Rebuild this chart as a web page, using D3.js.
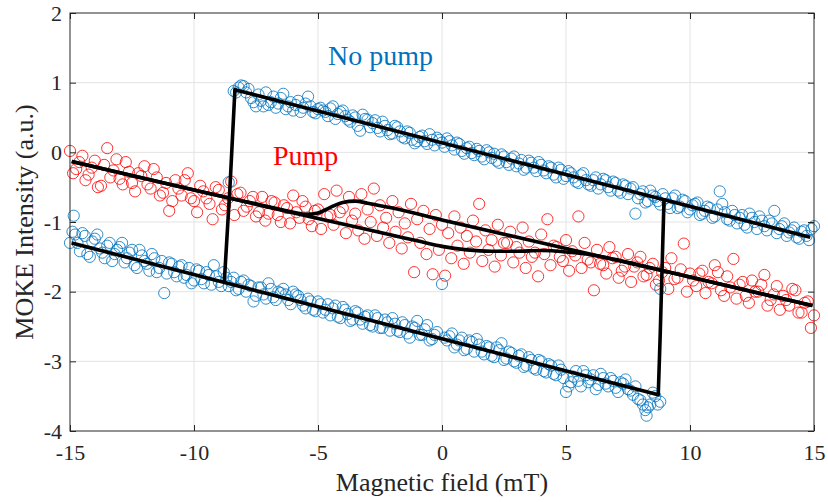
<!DOCTYPE html>
<html>
<head>
<meta charset="utf-8">
<script src="https://cdn.jsdelivr.net/npm/d3@7"></script>
<style>
  body { margin: 0; background: #fff; }
  svg { display: block; }
</style>
</head>
<body>
<svg width="828" height="502"></svg>
<script>
// no pump, upper branch
const noPumpUp = [
  [-8.4,0.88],[-8.2,0.93],[-8.0,0.95],[-7.8,0.91],[-7.6,0.72],[-7.4,0.83],[-7.2,0.66],[-7.0,0.68],
  [-6.8,0.80],[-6.6,0.70],[-6.4,0.84],[-6.2,0.66],[-6.0,0.60],[-5.8,0.74],[-5.6,0.64],[-5.4,0.80],
  [-5.2,0.58],[-5.0,0.62],[-4.8,0.60],[-4.6,0.52],[-4.4,0.66],[-4.2,0.55],[-4.0,0.60],[-3.8,0.47],
  [-3.6,0.53],[-3.4,0.38],[-3.2,0.54],[-3.0,0.47],[-2.8,0.42],[-2.6,0.35],[-2.4,0.44],[-2.2,0.32],
  [-2.0,0.27],[-1.8,0.36],[-1.6,0.22],[-1.4,0.30],[-1.2,0.18],[-1.0,0.16],[-0.8,0.24],[-0.6,0.12],
  [-0.4,0.18],[-0.2,0.21],[0.0,0.14],[0.2,0.20],[0.4,0.10],[0.6,0.14],[0.8,0.02],[1.0,0.06],
  [1.2,-0.01],[1.4,0.05],[1.6,-0.06],[1.8,0.03],[2.0,-0.08],[2.2,-0.12],[2.4,-0.03],[2.6,-0.14],
  [2.8,-0.09],[3.0,-0.20],[3.2,-0.11],[3.4,-0.22],[3.6,-0.15],[3.8,-0.27],[4.0,-0.18],[4.2,-0.30],
  [4.4,-0.22],[4.6,-0.36],[4.8,-0.25],[5.0,-0.34],[5.2,-0.30],[5.4,-0.42],[5.6,-0.33],[5.8,-0.40],
  [6.0,-0.48],[6.2,-0.36],[6.4,-0.46],[6.6,-0.40],[6.8,-0.55],[7.0,-0.44],[7.2,-0.58],[7.4,-0.48],
  [7.6,-0.52],[7.8,-0.88],[8.0,-0.60],[8.2,-0.72],[8.4,-0.55],[8.6,-0.64],[8.8,-0.75],[9.0,-0.66],
  [9.2,-0.80],[9.4,-0.62],[9.6,-0.78],[9.8,-0.70],[10.0,-0.82],[10.2,-0.74],[10.4,-0.90],[10.6,-0.84],
  [10.8,-0.80],[11.0,-0.92],[11.2,-0.56],[11.4,-0.86],[11.6,-0.98],[11.8,-0.90],[12.0,-0.94],[12.2,-1.04],
  [12.4,-0.88],[12.6,-1.00],[12.8,-0.92],[13.0,-1.06],[13.2,-0.98],[13.4,-0.84],[13.6,-1.10],[13.8,-1.02],
  [14.0,-1.15],[14.2,-1.08],[14.4,-1.24],[14.6,-1.12],[14.8,-1.26],[15.0,-1.06]
];
// second pass over the upper branch
const noPumpUp2 = [
  [-8.3,0.86],[-8.1,0.96],[-7.9,0.86],[-7.7,0.78],[-7.5,0.66],[-7.3,0.74],[-7.1,0.86],[-6.9,0.72],
  [-6.7,0.64],[-6.5,0.78],[-6.3,0.62],[-6.1,0.72],[-5.9,0.68],[-5.7,0.58],[-5.5,0.70],[-5.3,0.66],
  [-5.1,0.56],[-4.9,0.64],[-4.7,0.58],[-4.5,0.63],[-4.3,0.48],[-4.1,0.58],[-3.9,0.52],[-3.7,0.44],
  [-3.5,0.50],[-3.3,0.31],[-3.1,0.48],[-2.9,0.36],[-2.7,0.46],[-2.5,0.30],[-2.3,0.38],[-2.1,0.26],
  [-1.9,0.38],[-1.7,0.30],[-1.5,0.20],[-1.3,0.28],[-1.1,0.13],[-0.9,0.22],[-0.7,0.16],[-0.5,0.26],
  [-0.3,0.10],[-0.1,0.18],[0.1,0.08],[0.3,0.16],[0.5,0.04],[0.7,0.12],[0.9,-0.02],[1.1,0.08],
  [1.3,-0.04],[1.5,0.02],[1.7,-0.10],[1.9,0.00],[2.1,-0.02],[2.3,-0.15],[2.5,-0.06],[2.7,-0.18],
  [2.9,-0.06],[3.1,-0.16],[3.3,-0.25],[3.5,-0.12],[3.7,-0.22],[3.9,-0.14],[4.1,-0.26],[4.3,-0.20],
  [4.5,-0.32],[4.7,-0.22],[4.9,-0.38],[5.1,-0.27],[5.3,-0.36],[5.5,-0.44],[5.7,-0.30],[5.9,-0.46],
  [6.1,-0.40],[6.3,-0.52],[6.5,-0.38],[6.7,-0.50],[6.9,-0.42],[7.1,-0.55],[7.3,-0.46],[7.5,-0.60],
  [7.7,-0.50],[7.9,-0.66],[8.1,-0.56],[8.3,-0.70],[8.5,-0.62],[8.7,-0.70],[8.9,-0.60],[9.1,-0.74],
  [9.3,-0.66],[9.5,-0.80],[9.7,-0.68],[9.9,-0.86],[10.1,-0.76],[10.3,-0.72],[10.5,-0.88],[10.7,-0.78],
  [10.9,-0.94],[11.1,-0.82],[11.3,-0.74],[11.5,-0.96],[11.7,-0.84],[11.9,-1.02],[12.1,-0.90],[12.3,-1.08],
  [12.5,-0.94],[12.7,-1.10],[12.9,-0.98],[13.1,-1.12],[13.3,-1.02],[13.5,-1.16],[13.7,-1.06],[13.9,-1.20],
  [14.1,-1.12],[14.3,-1.22],[14.5,-1.14],[14.7,-1.20],[14.9,-1.10]
];

// no pump, lower branch
const noPumpDown = [
  [-15.0,-1.30],[-14.85,-0.91],[-14.8,-1.18],[-14.6,-1.42],[-14.4,-1.20],[-14.2,-1.50],[-14.0,-1.24],
  [-13.8,-1.38],[-13.6,-1.52],[-13.4,-1.30],[-13.2,-1.46],[-13.0,-1.36],[-12.8,-1.58],[-12.6,-1.44],
  [-12.4,-1.62],[-12.2,-1.40],[-12.0,-1.56],[-11.8,-1.70],[-11.6,-1.52],[-11.4,-1.66],[-11.2,-2.02],
  [-11.0,-1.58],[-10.8,-1.72],[-10.6,-1.64],[-10.4,-1.80],[-10.2,-1.66],[-10.0,-1.84],[-9.8,-1.70],
  [-9.6,-1.88],[-9.4,-1.76],[-9.2,-1.62],[-9.0,-1.86],[-8.8,-1.72],[-8.6,-1.92],[-8.4,-1.80],
  [-8.2,-1.96],[-8.0,-1.84],[-7.8,-1.90],[-7.6,-2.14],[-7.4,-1.94],[-7.2,-2.04],[-7.0,-1.88],
  [-6.8,-2.08],[-6.6,-2.00],[-6.4,-1.96],[-6.2,-2.12],[-6.0,-2.00],[-5.8,-2.06],[-5.6,-2.20],
  [-5.4,-2.10],[-5.2,-2.26],[-5.0,-2.14],[-4.8,-2.30],[-4.6,-2.18],[-4.4,-2.24],[-4.2,-2.36],
  [-4.0,-2.22],[-3.8,-2.32],[-3.6,-2.40],[-3.4,-2.30],[-3.2,-2.46],[-3.0,-2.34],[-2.8,-2.50],
  [-2.6,-2.38],[-2.4,-2.52],[-2.2,-2.44],[-2.0,-2.38],[-1.8,-2.56],[-1.6,-2.44],[-1.4,-2.60],
  [-1.2,-2.50],[-1.0,-2.42],[-0.8,-2.62],[-0.6,-2.48],[-0.4,-2.68],[-0.2,-2.58],[0.0,-1.89],
  [0.1,-2.66],[0.2,-2.70],[0.4,-2.60],[0.6,-2.76],[0.8,-2.66],[1.0,-2.82],[1.2,-2.72],[1.4,-2.68],
  [1.6,-2.86],[1.8,-2.78],[2.0,-2.92],[2.2,-2.80],[2.4,-2.74],[2.6,-2.96],[2.8,-2.88],[3.0,-3.02],
  [3.2,-2.90],[3.4,-3.06],[3.6,-2.98],[3.8,-3.12],[4.0,-3.00],[4.2,-3.16],[4.4,-3.06],[4.6,-3.20],
  [4.8,-3.12],[5.0,-3.44],[5.2,-3.30],[5.4,-3.14],[5.6,-3.36],[5.8,-3.20],[6.0,-3.26],[6.2,-3.40],
  [6.4,-3.18],[6.6,-3.32],[6.8,-3.24],[7.0,-3.38],[7.2,-3.30],[7.4,-3.26],[7.6,-3.42],[7.8,-3.36],
  [8.0,-3.56],[8.2,-3.70],[8.25,-3.78],[8.4,-3.62],[8.5,-3.45],[8.6,-3.50],[8.8,-3.58]
];
// second pass over the lower branch
const noPumpDown2 = [
  [-14.9,-1.14],[-14.7,-1.30],[-14.5,-1.16],[-14.3,-1.46],[-14.1,-1.28],[-13.9,-1.18],[-13.7,-1.44],
  [-13.5,-1.34],[-13.3,-1.56],[-13.1,-1.40],[-12.9,-1.30],[-12.7,-1.52],[-12.5,-1.40],[-12.3,-1.66],
  [-12.1,-1.48],[-11.9,-1.60],[-11.7,-1.46],[-11.5,-1.72],[-11.3,-1.56],[-11.1,-1.74],[-10.9,-1.60],
  [-10.7,-1.78],[-10.5,-1.62],[-10.3,-1.76],[-10.1,-1.88],[-9.9,-1.68],[-9.7,-1.82],[-9.5,-1.72],
  [-9.3,-1.90],[-9.1,-1.78],[-8.9,-1.92],[-8.7,-1.80],[-8.5,-1.86],[-8.3,-1.98],[-8.1,-1.86],
  [-7.9,-2.00],[-7.7,-1.92],[-7.5,-2.06],[-7.3,-1.94],[-7.1,-2.10],[-6.9,-1.96],[-6.7,-2.12],
  [-6.5,-2.02],[-6.3,-2.04],[-6.1,-2.18],[-5.9,-2.04],[-5.7,-2.12],[-5.5,-2.24],[-5.3,-2.14],
  [-5.1,-2.28],[-4.9,-2.18],[-4.7,-2.26],[-4.5,-2.34],[-4.3,-2.20],[-4.1,-2.38],[-3.9,-2.26],
  [-3.7,-2.42],[-3.5,-2.28],[-3.3,-2.40],[-3.1,-2.36],[-2.9,-2.48],[-2.7,-2.34],[-2.5,-2.52],
  [-2.3,-2.40],[-2.1,-2.56],[-1.9,-2.46],[-1.7,-2.58],[-1.5,-2.48],[-1.3,-2.66],[-1.1,-2.52],
  [-0.9,-2.62],[-0.7,-2.54],[-0.5,-2.70],[-0.3,-2.62],[0.3,-2.64],[0.5,-2.80],[0.7,-2.70],
  [0.9,-2.84],[1.1,-2.70],[1.3,-2.86],[1.5,-2.76],[1.7,-2.90],[1.9,-2.80],[2.1,-2.94],[2.3,-2.84],
  [2.5,-2.98],[2.7,-2.86],[2.9,-3.00],[3.1,-2.92],[3.3,-3.08],[3.5,-2.94],[3.7,-3.10],[3.9,-2.98],
  [4.1,-3.14],[4.3,-3.04],[4.5,-3.18],[4.7,-3.06],[4.9,-3.24],[5.1,-3.36],[5.3,-3.22],[5.5,-3.28],
  [5.7,-3.14],[5.9,-3.30],[6.1,-3.20],[6.3,-3.34],[6.5,-3.24],[6.7,-3.36],[6.9,-3.28],[7.1,-3.44],
  [7.3,-3.32],[7.5,-3.40],[7.7,-3.48],[7.9,-3.54],[8.1,-3.62],[8.3,-3.66],[8.7,-3.62]
];

// points caught in the switching
const noPumpSwitch = [[-8.6,-0.43],[8.8,-1.96]];

// pump, two sweeps
const pumpA = [
  [-15.0,0.02],[-14.75,-0.24],[-14.5,-0.05],[-14.25,-0.32],[-14.0,-0.12],[-13.75,-0.48],[-13.5,0.06],
  [-13.25,-0.26],[-13.0,-0.38],[-12.75,-0.14],[-12.5,-0.44],[-12.25,-0.30],[-12.0,-0.20],[-11.75,-0.52],
  [-11.5,-0.36],[-11.25,-0.58],[-11.0,-0.84],[-10.75,-0.40],[-10.5,-0.62],[-10.25,-0.30],[-10.0,-0.70],
  [-9.75,-0.48],[-9.5,-0.66],[-9.25,-0.96],[-9.0,-0.54],[-8.75,-0.76],[-8.5,-0.42],[-8.25,-0.60],
  [-8.0,-0.84],[-7.75,-0.70],[-7.5,-0.92],[-7.25,-0.64],[-7.0,-0.88],[-6.75,-0.72],[-6.5,-1.00],
  [-6.25,-0.80],[-6.0,-0.62],[-5.75,-0.94],[-5.5,-0.78],[-5.25,-1.06],[-5.0,-0.82],[-4.75,-0.60],
  [-4.5,-0.90],[-4.25,-0.55],[-4.0,-0.80],[-3.75,-0.64],[-3.5,-0.88],[-3.25,-0.60],[-3.0,-0.82],
  [-2.75,-0.52],[-2.5,-0.76],[-2.25,-0.94],[-2.0,-0.70],[-1.75,-0.86],[-1.5,-1.02],[-1.25,-0.74],
  [-1.0,-0.96],[-0.75,-0.84],[-0.5,-1.10],[-0.25,-0.90],[0.0,-1.04],[0.25,-1.16],[0.5,-0.92],
  [0.75,-1.08],[1.0,-1.20],[1.25,-0.98],[1.5,-0.74],[1.75,-1.12],[2.0,-1.26],[2.25,-1.04],[2.5,-1.30],
  [2.75,-1.14],[3.0,-1.36],[3.25,-1.08],[3.5,-1.28],[3.75,-1.44],[4.0,-1.18],[4.25,-0.96],[4.5,-1.34],
  [4.75,-1.50],[5.0,-1.26],[5.25,-1.42],[5.5,-0.92],[5.75,-1.30],[6.0,-1.58],[6.25,-1.40],[6.5,-1.62],
  [6.75,-1.36],[7.0,-1.50],[7.25,-1.70],[7.5,-1.46],[7.75,-1.64],[8.0,-1.50],[8.25,-1.76],[8.5,-1.60],
  [8.75,-1.84],[9.0,-1.66],[9.25,-1.52],[9.5,-1.80],[9.75,-1.31],[10.0,-1.74],[10.25,-1.92],[10.5,-1.70],
  [10.75,-1.86],[11.0,-1.62],[11.25,-1.98],[11.5,-1.78],[11.75,-1.53],[12.0,-1.90],[12.25,-2.06],
  [12.5,-1.84],[12.75,-2.00],[13.0,-1.76],[13.25,-2.12],[13.5,-1.92],[13.75,-2.06],[14.0,-2.20],
  [14.25,-1.98],[14.5,-2.30],[14.75,-2.14],[15.0,-2.34]
];
const pumpB = [
  [-14.875,-0.30],[-14.625,-0.14],[-14.375,-0.40],[-14.125,-0.22],[-13.875,-0.50],[-13.625,-0.18],
  [-13.375,-0.36],[-13.125,-0.10],[-12.875,-0.46],[-12.625,-0.28],[-12.375,-0.56],[-12.125,-0.34],
  [-11.875,-0.46],[-11.625,-0.24],[-11.375,-0.62],[-11.125,-0.44],[-10.875,-0.70],[-10.625,-0.52],
  [-10.375,-0.40],[-10.125,-0.66],[-9.875,-0.86],[-9.625,-0.56],[-9.375,-0.74],[-9.125,-0.50],
  [-8.875,-0.82],[-8.625,-0.66],[-8.375,-0.90],[-8.125,-0.58],[-7.875,-0.78],[-7.625,-0.64],
  [-7.375,-0.86],[-7.125,-0.98],[-6.875,-0.70],[-6.625,-0.90],[-6.375,-0.76],[-6.125,-1.02],
  [-5.875,-0.86],[-5.625,-0.70],[-5.375,-0.96],[-5.125,-0.84],[-4.875,-1.10],[-4.625,-0.92],
  [-4.375,-1.04],[-4.125,-0.86],[-3.875,-1.16],[-3.625,-0.98],[-3.375,-1.12],[-3.125,-1.24],
  [-2.875,-1.00],[-2.625,-1.20],[-2.375,-1.08],[-2.125,-1.30],[-1.875,-1.14],[-1.625,-1.38],
  [-1.375,-1.22],[-1.125,-1.72],[-0.875,-1.30],[-0.625,-1.46],[-0.375,-1.75],[-0.125,-1.40],
  [0.125,-1.77],[0.375,-1.52],[0.625,-1.34],[0.875,-1.60],[1.125,-1.44],[1.375,-1.28],[1.625,-1.56],
  [1.875,-1.40],[2.125,-1.64],[2.375,-1.48],[2.625,-1.30],[2.875,-1.58],[3.125,-1.44],[3.375,-1.66],
  [3.625,-1.50],[3.875,-1.78],[4.125,-1.46],[4.375,-1.62],[4.625,-1.36],[4.875,-1.56],[5.125,-1.70],
  [5.375,-1.48],[5.625,-1.66],[5.875,-1.54],[6.125,-1.98],[6.375,-1.60],[6.625,-1.74],[6.875,-1.52],
  [7.125,-1.80],[7.375,-1.64],[7.625,-1.86],[7.875,-1.58],[8.125,-1.78],[8.375,-1.66],[8.625,-1.90],
  [8.875,-1.72],[9.125,-1.96],[9.375,-1.82],[9.625,-1.68],[9.875,-2.00],[10.125,-1.84],[10.375,-1.74],
  [10.625,-2.02],[10.875,-1.88],[11.125,-1.72],[11.375,-2.06],[11.625,-1.94],[11.875,-2.10],
  [12.125,-1.86],[12.375,-2.16],[12.625,-2.00],[12.875,-1.90],[13.125,-2.20],[13.375,-2.04],
  [13.625,-2.26],[13.875,-2.12],[14.125,-1.96],[14.375,-2.30],[14.625,-2.16],[14.875,-2.52]
];

// fitted curves
const loopLower = [[-14.93,-1.30],[8.72,-3.48],[8.80,-2.60],[8.95,-0.70]];
const loopUpper = [[-8.78,-1.87],[-8.55,-0.50],[-8.35,0.90],[14.85,-1.22]];
const pumpFitA = [
  [-14.93,-0.13],[-10,-0.54],[-7,-0.78],[-6,-0.86],[-5.5,-0.89],[-5,-0.87],[-4.5,-0.79],[-4,-0.72],
  [-3.5,-0.70],[-3,-0.73],[-2,-0.80],[0,-0.97],[5,-1.38],[10,-1.79],[14.94,-2.20]
];
const pumpFitB = [
  [-14.93,-0.13],[-10,-0.54],[-5,-0.95],[-2,-1.19],[-1,-1.27],[0,-1.35],[1,-1.40],[2,-1.42],
  [3,-1.42],[4,-1.41],[5,-1.43],[6,-1.47],[7,-1.54],[8,-1.62],[10,-1.79],[14.94,-2.20]
];

const xTicks = [-15, -10, -5, 0, 5, 10, 15];
const yTicks = [-4, -3, -2, -1, 0, 1, 2];

const blue = '#0072BD';
const red = '#FF0000';
const ink = '#262626';
const serif = '"Liberation Serif"';

const margin = {t: 13, r: 14, b: 71, l: 70};
const size = {w: 828, h: 502};
const svg = d3.select('svg');

const x = d3.scaleLinear().domain([-15, 15]).range([margin.l, size.w - margin.r]);
const y = d3.scaleLinear().domain([-4, 2]).range([size.h - margin.b, margin.t]);

// grid
const grid = svg.append('g');
grid.selectAll('.gx').data(xTicks.slice(1, -1)).join('line')
    .attr('x1', d => x(d)).attr('x2', d => x(d))
    .attr('y1', y(-4)).attr('y2', y(2))
    .attr('stroke', '#e3e3e3').attr('stroke-width', 1);
grid.selectAll('.gy').data(yTicks.slice(1, -1)).join('line')
    .attr('x1', x(-15)).attr('x2', x(15))
    .attr('y1', d => y(d)).attr('y2', d => y(d))
    .attr('stroke', '#e3e3e3').attr('stroke-width', 1);

// markers
function dots(data, color) {
    svg.append('g').selectAll('circle')
        .data(data)
        .join('circle')
        .attr('cx', d => x(d[0]))
        .attr('cy', d => y(d[1]))
        .attr('r', 5.6)
        .attr('fill', 'none')
        .attr('stroke', color)
        .attr('stroke-opacity', 0.8)
        .attr('stroke-width', 1);
}
dots(pumpA, red);
dots(pumpB, red);
dots(noPumpUp, blue);
dots(noPumpUp2, blue);
dots(noPumpDown, blue);
dots(noPumpDown2, blue);
dots(noPumpSwitch, blue);

// fits
const straight = d3.line().x(d => x(d[0])).y(d => y(d[1]));
const smooth = d3.line().x(d => x(d[0])).y(d => y(d[1])).curve(d3.curveMonotoneX);

[[loopLower, straight], [loopUpper, straight], [pumpFitA, smooth], [pumpFitB, smooth]].forEach(([d, gen]) => {
    svg.append('path')
        .attr('d', gen(d))
        .attr('fill', 'none')
        .attr('stroke', '#000')
        .attr('stroke-width', 3.6)
        .attr('stroke-linejoin', 'round');
});

// axes, ticks inside on all four sides
svg.append('g').attr('transform', `translate(0,${y(-4)})`)
    .call(d3.axisBottom(x).tickValues(xTicks).tickSize(-6).tickPadding(13).tickFormat(d => String(d)))
    .call(g => g.select('.domain').remove());
svg.append('g').attr('transform', `translate(${x(-15)},0)`)
    .call(d3.axisLeft(y).tickValues(yTicks).tickSize(-6).tickPadding(8).tickFormat(d => String(d)))
    .call(g => g.select('.domain').remove());
svg.append('g').attr('transform', `translate(0,${y(2)})`)
    .call(d3.axisTop(x).tickValues(xTicks).tickSize(-6).tickFormat(''))
    .call(g => g.select('.domain').remove());
svg.append('g').attr('transform', `translate(${x(15)},0)`)
    .call(d3.axisRight(y).tickValues(yTicks).tickSize(-6).tickFormat(''))
    .call(g => g.select('.domain').remove());

svg.selectAll('.tick line').attr('stroke', ink);
svg.selectAll('.tick text')
    .attr('fill', ink)
    .style('font-family', serif)
    .style('font-size', '22px');

svg.append('rect')
    .attr('x', x(-15)).attr('y', y(2))
    .attr('width', x(15) - x(-15)).attr('height', y(-4) - y(2))
    .attr('fill', 'none').attr('stroke', ink).attr('stroke-width', 1);

// labels
svg.append('text')
    .attr('x', x(0)).attr('y', 491)
    .attr('text-anchor', 'middle')
    .attr('fill', ink)
    .style('font-family', serif)
    .style('font-size', '26px')
    .text('Magnetic field (mT)');

svg.append('text')
    .attr('transform', `translate(33,${(y(-4) + y(2)) / 2}) rotate(-90)`)
    .attr('text-anchor', 'middle')
    .attr('fill', ink)
    .style('font-family', serif)
    .style('font-size', '26px')
    .text('MOKE Intensity (a.u.)');

svg.append('text')
    .attr('x', 328).attr('y', 65)
    .attr('fill', blue)
    .style('font-family', serif)
    .style('font-size', '28px')
    .text('No pump');

svg.append('text')
    .attr('x', 273).attr('y', 165)
    .attr('fill', red)
    .style('font-family', serif)
    .style('font-size', '28px')
    .text('Pump');
</script>
</body>
</html>
